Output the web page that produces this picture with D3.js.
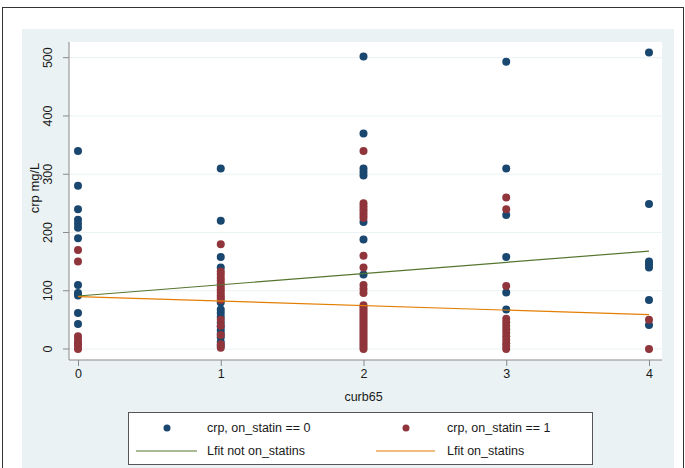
<!DOCTYPE html>
<html><head><meta charset="utf-8">
<script src="https://cdn.jsdelivr.net/npm/d3@7"></script>
<style>html,body{margin:0;padding:0;background:#fff;}svg{display:block;font-family:"Liberation Sans",Arial,sans-serif;}</style>
</head><body>
<svg id="chart" width="685" height="468"></svg>
<script>
// ---- data ----
const curb65Levels = [0, 1, 2, 3, 4];
const crpNotStatin = [
  [340, 280, 240, 222, 215, 208, 190, 110, 96, 92, 62, 43, 10],
  [310, 220, 158, 140, 80, 68, 62, 55, 45, 38, 32, 26, 20, 12, 5],
  [502, 370, 310, 304, 298, 218, 188, 128],
  [493, 310, 230, 158, 97, 68],
  [509, 249, 150, 145, 140, 84, 41]
];
const crpOnStatin = [
  [170, 150, 22, 16, 10, 5, 0],
  [180, 133, 128, 122, 117, 112, 107, 102, 97, 92, 88, 84, 50, 40, 24, 8, 2],
  [340, 250, 245, 240, 235, 230, 225, 160, 140, 110, 103, 96, 75, 72, 68, 64, 60, 56, 52, 48, 44, 40, 36, 32, 28, 24, 20, 16, 12, 8, 4, 0],
  [260, 240, 108, 52, 46, 40, 34, 28, 22, 16, 10, 5, 0],
  [50, 0]
];
const fitX = [0, 4];
const fitNotStatin = [91, 168];
const fitOnStatin = [90, 59];
const yTicks = [0, 100, 200, 300, 400, 500];
const xTicks = [0, 1, 2, 3, 4];
const legendLabels = ["crp, on_statin == 0", "crp, on_statin == 1", "Lfit not on_statins", "Lfit on_statins"];

// ---- styles ----
const blue = "#1a476f", red = "#90353b", green = "#55752f", orange = "#e37e00";
const bg = "#eaf2f3";

const svg = d3.select("#chart");
// outer frame
svg.append("rect").attr("x", 2.5).attr("y", 7.5).attr("width", 681).attr("height", 470)
  .attr("fill", "#fff").attr("stroke", "#333").attr("stroke-width", 1);
// graph region
svg.append("rect").attr("x", 22).attr("y", 29).attr("width", 652).attr("height", 440).attr("fill", bg);
// plot region
const pl = 69, pr = 662, pt = 42, pb = 360;
svg.append("rect").attr("x", pl).attr("y", pt).attr("width", pr - pl).attr("height", pb - pt).attr("fill", "#fff");

const x = d3.scaleLinear().domain([0, 4]).range([78, 649]);
const y = d3.scaleLinear().domain([0, 500]).range([349, 57.7]);

// gridlines
svg.append("g").selectAll("line").data(yTicks).join("line")
  .attr("x1", pl).attr("x2", pr).attr("y1", d => y(d)).attr("y2", d => y(d))
  .attr("stroke", bg).attr("stroke-width", 1);

// axes
const yAxis = d3.axisLeft(y).tickValues(yTicks).tickSize(6).tickPadding(3);
const gy = svg.append("g").attr("transform", `translate(${pl},0)`).call(yAxis);
gy.select(".domain").attr("d", `M0,${pt}V${pb}`).attr("stroke", "#888");
gy.selectAll(".tick").attr("transform", null);
gy.selectAll(".tick line").attr("y1", d => y(d)).attr("y2", d => y(d)).attr("stroke", "#888");
gy.selectAll(".tick text")
  .attr("x", -21).attr("y", d => y(d)).attr("dy", "0.35em")
  .attr("transform", d => `rotate(-90, -21, ${y(d)})`)
  .attr("text-anchor", "middle").attr("font-size", 12.5).attr("fill", "#1a1a1a");

const xAxis = d3.axisBottom(x).tickValues(xTicks).tickFormat(d3.format("d")).tickSize(6).tickPadding(3);
const gx = svg.append("g").attr("transform", `translate(0,${pb})`).call(xAxis);
gx.select(".domain").attr("d", `M${pl},0H${pr}`).attr("stroke", "#888");
gx.selectAll("line").attr("stroke", "#888");
gx.selectAll("text").attr("font-size", 12.5).attr("fill", "#1a1a1a");

// axis titles
svg.append("text").attr("transform", "translate(34,188) rotate(-90)").attr("text-anchor", "middle")
  .attr("dy", "0.35em").attr("font-size", 13).attr("fill", "#1a1a1a").text("crp mg/L");
svg.append("text").attr("x", x(2)).attr("y", 401).attr("text-anchor", "middle")
  .attr("font-size", 12.5).attr("fill", "#1a1a1a").text("curb65");

// points
function pts(arr) { return arr.flatMap((vals, i) => vals.map(v => ({ cx: curb65Levels[i], v }))); }
svg.append("g").selectAll("circle").data(pts(crpNotStatin)).join("circle")
  .attr("cx", d => x(d.cx)).attr("cy", d => y(d.v)).attr("r", 4).attr("fill", blue);
svg.append("g").selectAll("circle").data(pts(crpOnStatin)).join("circle")
  .attr("cx", d => x(d.cx)).attr("cy", d => y(d.v)).attr("r", 4).attr("fill", red);

// fit lines
const line = d3.line().x((d, i) => x(fitX[i])).y(d => y(d));
svg.append("path").datum(fitNotStatin).attr("d", line).attr("fill", "none").attr("stroke", green).attr("stroke-width", 1.2);
svg.append("path").datum(fitOnStatin).attr("d", line).attr("fill", "none").attr("stroke", orange).attr("stroke-width", 1.2);

// legend
const lg = svg.append("g");
lg.append("rect").attr("x", 128.5).attr("y", 412.5).attr("width", 464).attr("height", 52)
  .attr("fill", "#fff").attr("stroke", "#555").attr("stroke-width", 1);
const row1 = 428, row2 = 451;
lg.append("circle").attr("cx", 167).attr("cy", row1).attr("r", 3.5).attr("fill", blue);
lg.append("circle").attr("cx", 406).attr("cy", row1).attr("r", 3.5).attr("fill", red);
lg.append("line").attr("x1", 136).attr("x2", 197).attr("y1", row2).attr("y2", row2).attr("stroke", green).attr("stroke-width", 1.2);
lg.append("line").attr("x1", 376).attr("x2", 435).attr("y1", row2).attr("y2", row2).attr("stroke", orange).attr("stroke-width", 1.2);
const lx = [207, 447, 207, 447], ly = [row1, row1, row2, row2];
lg.selectAll("text.lab").data(legendLabels).join("text").attr("class", "lab")
  .attr("x", (d, i) => lx[i]).attr("y", (d, i) => ly[i]).attr("dy", "0.35em")
  .attr("font-size", 12.5).attr("fill", "#1a1a1a").text(d => d);
</script>
</body></html>
